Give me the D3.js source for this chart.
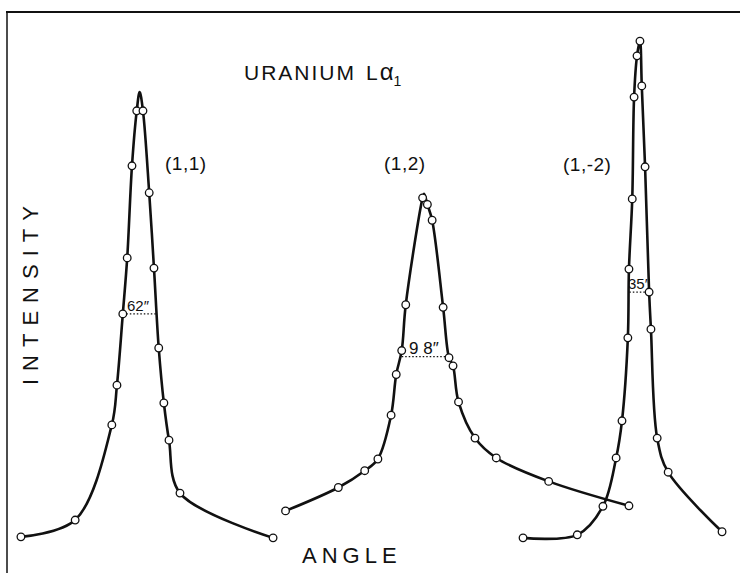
<!DOCTYPE html>
<html>
<head>
<meta charset="utf-8">
<script src="https://cdn.jsdelivr.net/npm/d3@7"></script>
<style>
  html, body { margin: 0; padding: 0; background: #fff; }
  svg { display: block; }
  text { font-family: "Liberation Sans", "DejaVu Sans", sans-serif; fill: #111; }
</style>
</head>
<body>
<div id="chart"></div>
<script>
const angle11 = [1.9, 9.3, 14.3, 15.0, 15.8, 16.4, 17.05, 17.7, 18.1, 18.55, 19.4, 20.05, 20.7, 21.4, 22.1, 23.6, 36.3];
const int11 = [1.6, 4.9, 23.6, 31.4, 45.4, 56.4, 74.5, 85.3, 89.0, 85.3, 69.2, 54.4, 38.7, 27.9, 20.6, 10.2, 1.4];
const apex11 = 8;

// peak (1,2)
const angle12 = [38.0, 45.2, 48.8, 50.6, 52.4, 53.1, 53.85, 54.4, 56.7, 56.9, 57.35, 58.0, 59.5, 60.3, 60.85, 61.6, 63.85, 66.75, 73.9, 84.85];
const int12 = [6.7, 11.3, 14.6, 16.9, 25.5, 33.5, 38.2, 47.2, 68.2, 69.0, 66.9, 63.8, 46.7, 36.8, 35.2, 28.1, 21.0, 17.1, 12.5, 7.7];
const apex12 = 9;

// peak (1,-2)
const angle1m2 = [70.4, 77.8, 81.3, 83.1, 83.9, 84.7, 84.85, 85.3, 85.55, 85.95, 86.35, 86.6, 87.05, 87.6, 87.85, 88.7, 90.2, 97.55];
const int1m2 = [1.4, 2.0, 7.6, 17.1, 24.4, 40.7, 54.2, 68.0, 88.0, 96.1, 99.0, 90.2, 74.3, 49.7, 42.4, 21.0, 14.3, 2.6];
const apex1m2 = -1;

const peakLabels = ["(1,1)", "(1,2)", "(1,-2)"];
const widthLabels = ["62\u2033", "9 8\u2033", "35\u2033"];
const halfLevel = [45.4, 37.0, 49.7];
const halfLeft = [15.8, 53.85, 84.9];
const halfRight = [20.35, 60.3, 87.6];

const width = 740;
const height = 573;

const svg = d3
  .select("#chart")
  .append("svg")
  .attr("width", width)
  .attr("height", height);

const x = d3.scaleLinear().domain([0, 100]).range([7, 740]);
const y = d3.scaleLinear().domain([0, 100]).range([545, 36]);

// frame: only top and left edges survive in the scan
svg.append("line")
  .attr("x1", 6).attr("x2", 740).attr("y1", 12).attr("y2", 12)
  .attr("stroke", "#111").attr("stroke-width", 2);
svg.append("line")
  .attr("x1", 7).attr("x2", 7).attr("y1", 12).attr("y2", 573)
  .attr("stroke", "#111").attr("stroke-width", 1.5);

const line = d3
  .line()
  .x((d) => x(d[0]))
  .y((d) => y(d[1]))
  .curve(d3.curveCatmullRom.alpha(0.5));

const peaks = [
  [angle11, int11, apex11],
  [angle12, int12, apex12],
  [angle1m2, int1m2, apex1m2],
];

peaks.forEach(([a, v, apex], k) => {
  const pts = a.map((d, i) => [d, v[i]]);

  // half-max dotted line
  svg.append("line")
    .attr("x1", x(halfLeft[k])).attr("x2", x(halfRight[k]))
    .attr("y1", y(halfLevel[k])).attr("y2", y(halfLevel[k]))
    .attr("stroke", "#111").attr("stroke-width", 1.2)
    .attr("stroke-dasharray", "1.5,2");

  svg.append("path")
    .datum(pts)
    .attr("d", line)
    .attr("fill", "none")
    .attr("stroke", "#111")
    .attr("stroke-width", 2.6)
    .attr("stroke-linejoin", "round");

  svg.selectAll(null)
    .data(pts.filter((_, i) => i !== apex))
    .enter()
    .append("circle")
    .attr("cx", (d) => x(d[0]))
    .attr("cy", (d) => y(d[1]))
    .attr("r", 3.8)
    .attr("fill", "#fff")
    .attr("stroke", "#111")
    .attr("stroke-width", 1.3);
});

// title
const title = svg.append("text")
  .attr("x", 244).attr("y", 80)
  .style("font-size", "21px")
  .style("letter-spacing", "2px");
title.append("tspan").text("URANIUM");
title.append("tspan").attr("dx", 10).text("L");
title.append("tspan").style("font-size", "24px").style("letter-spacing", "0px").text("\u03b1");
title.append("tspan").attr("dy", 6).style("font-size", "14px").text("1");

// peak labels
const labelPos = [[165, 170], [384, 170], [563, 171]];
svg.selectAll(null)
  .data(peakLabels)
  .enter()
  .append("text")
  .attr("x", (_, i) => labelPos[i][0])
  .attr("y", (_, i) => labelPos[i][1])
  .style("font-size", "19px")
  .style("letter-spacing", "0.5px")
  .text((d) => d);

// width labels
const widthPos = [[127, 311, 15], [409, 354, 17], [628, 289, 15]];
svg.selectAll(null)
  .data(widthLabels)
  .enter()
  .append("text")
  .attr("x", (_, i) => widthPos[i][0])
  .attr("y", (_, i) => widthPos[i][1])
  .style("font-size", (_, i) => widthPos[i][2] + "px")
  .text((d) => d);

// axis names
svg.append("text")
  .attr("transform", "translate(38,385) rotate(-90)")
  .style("font-size", "22px")
  .style("letter-spacing", "8px")
  .text("INTENSITY");

svg.append("text")
  .attr("x", 302).attr("y", 563)
  .style("font-size", "22px")
  .style("letter-spacing", "5px")
  .text("ANGLE");
</script>
</body>
</html>
